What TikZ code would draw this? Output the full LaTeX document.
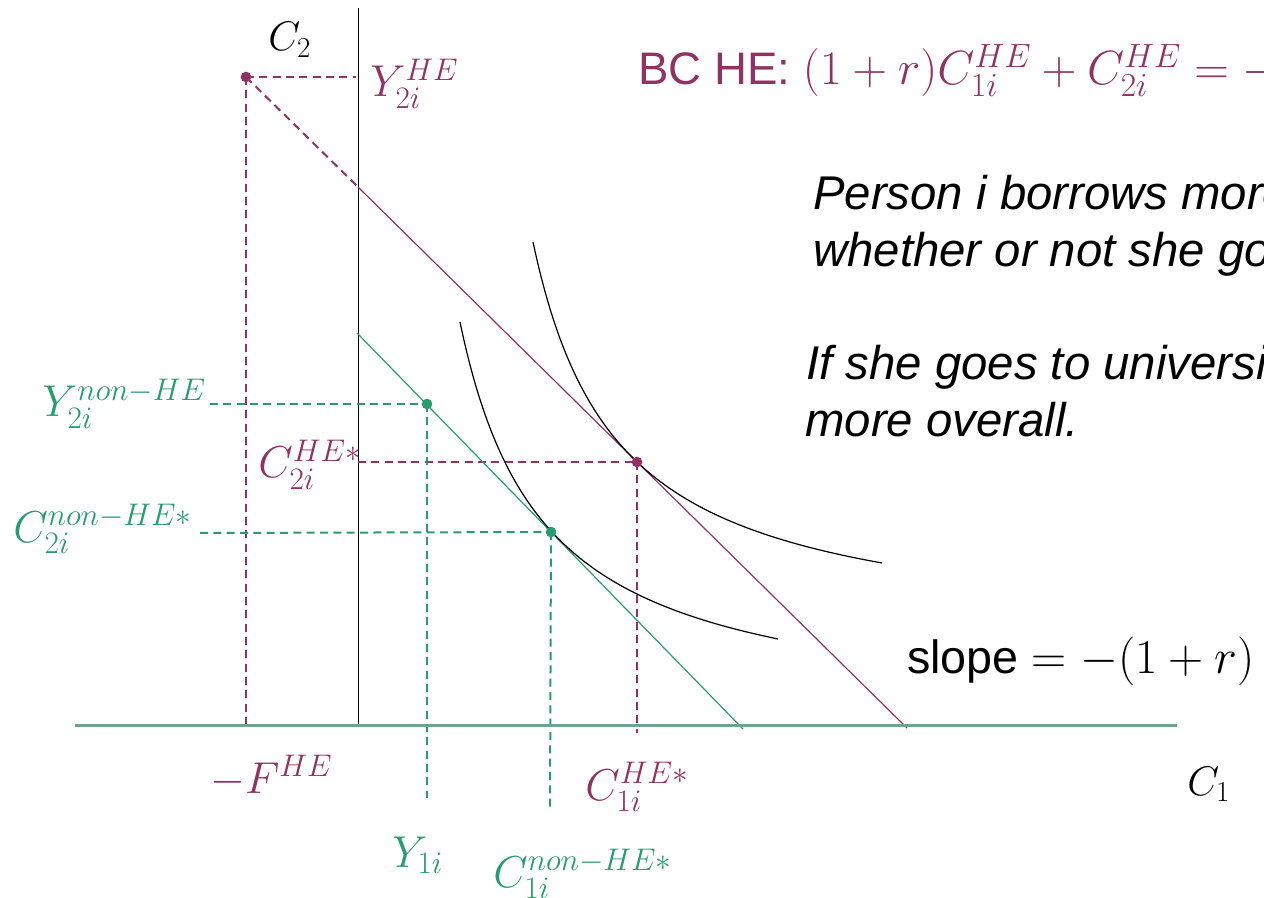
\RequirePackage{fix-cm}
\documentclass[tikz,border=0pt]{standalone}
\usepackage[no-math]{fontspec}
\setmainfont{Liberation Sans}
\definecolor{hepurple}{RGB}{142,52,98}
\definecolor{nongreen}{RGB}{44,154,112}
\definecolor{axisgreen}{RGB}{110,163,144}
\tikzset{
  hedash/.style={hepurple, line width=1.5pt, dash pattern=on 6pt off 4pt},
  nondash/.style={nongreen, line width=1.5pt, dash pattern=on 6pt off 4pt},
  heline/.style={hepurple, line width=0.9pt},
  nonline/.style={nongreen, line width=0.9pt},
  icurve/.style={black, line width=0.9pt},
  lab/.style={anchor=base west, inner sep=0pt, font=\fontsize{33.5}{40}\selectfont},
  axlab/.style={anchor=base west, inner sep=0pt, font=\fontsize{31}{36}\selectfont},
  txt/.style={anchor=base west, inner sep=0pt, font=\fontsize{35.5}{42}\selectfont},
  dotp/.style={fill=hepurple},
  dotg/.style={fill=nongreen}
}
\begin{document}
\begin{tikzpicture}[x=0.75pt,y=-0.75pt]
\useasboundingbox (0,0) rectangle (1264,898);
\clip (0,0) rectangle (1264,898);
% key points
\coordinate (yhe) at (246,77);
\coordinate (yheax) at (356,77);
\coordinate (fhe) at (246,730);
\coordinate (bcax) at (358,187);
\coordinate (bcend) at (907,728);
\coordinate (che) at (637,462);
\coordinate (cheax) at (358,462);
\coordinate (chebot) at (637,733);
\coordinate (gstart) at (357,333);
\coordinate (gend) at (743,729);
\coordinate (g1) at (427,404);
\coordinate (g1left) at (210,404);
\coordinate (g1bot) at (427,798);
\coordinate (g2) at (551,532);
\coordinate (g2left) at (200,533);
\coordinate (g2bot) at (550,809);
\coordinate (axl) at (75,725.5);
\coordinate (axr) at (1177,725.5);
\coordinate (vtop) at (358.5,8);
\coordinate (vbot) at (358.5,725);
% vertical axis
\draw[black, line width=1.1pt] (vtop) -- (vbot);
% dashed guides
\draw[hedash] (yhe) -- (yheax);
\draw[hedash] (yhe) -- (fhe);
\draw[hedash] (yhe) -- (bcax);
\draw[hedash] (cheax) -- (che);
\draw[hedash] (che) -- (chebot);
\draw[nondash] (g1left) -- (g1);
\draw[nondash] (g1) -- (g1bot);
\draw[nondash] (g2left) -- (g2);
\draw[nondash] (g2) -- (g2bot);
% budget lines
\draw[heline] (bcax) -- (bcend);
\draw[nonline] (gstart) -- (gend);
% indifference curves (hyperbolas)
\draw[icurve] plot[domain=533:882, samples=140] (\x, {640.7 - 183.56*(183.56/(\x-448.5))});
\draw[icurve] plot[domain=460:778, samples=140] (\x, {721.9 - 182.4*(182.4/(\x-376.8))});
% horizontal axis
\draw[axisgreen, line width=1.8pt] (axl) -- (axr);
% dots
\fill[dotp] (yhe) circle[radius=4pt];
\fill[dotp] (che) circle[radius=4pt];
\fill[dotg] (g1) circle[radius=4pt];
\fill[dotg] (g2) circle[radius=4pt];
% labels
\node[axlab] (c2) at (268,51) {$C_2$};
\node[axlab] (c1) at (1187,795) {$C_1$};
\node[lab, text=hepurple] (ly2he) at (370,97) {$Y_{2i}^{HE}$};
\node[lab, text=hepurple] (lfhe) at (210,793) {$-F^{HE}$};
\node[lab, text=hepurple] (lc1he) at (585,800) {$C_{1i}^{HE*}$};
\node[lab, text=hepurple] (lc2he) at (258,478) {$C_{2i}^{HE*}$};
\node[lab, text=nongreen] (ly1) at (392,867) {$Y_{1i}$};
\node[lab, text=nongreen] (lc1non) at (493,887) {$C_{1i}^{non-HE*}$};
\node[lab, text=nongreen] (ly2non) at (42,417) {$Y_{2i}^{non-HE}$};
\node[lab, text=nongreen] (lc2non) at (13,542) {$C_{2i}^{non-HE*}$};
% texts
\node[anchor=base west, inner sep=0pt, font=\fontsize{34.2}{41}\selectfont, text=hepurple] (bc) at (638,85) {BC HE: {\fontsize{36}{43}\selectfont$(1+r)C_{1i}^{HE}+C_{2i}^{HE}=-$}};
\node[txt] (t1) at (813,210) {\itshape Person i borrows more};
\node[txt] (t2) at (813,267) {\itshape whether or not she goes};
\node[txt] (t3) at (806,380) {\itshape If she goes to university};
\node[txt] (t4) at (805,437) {\itshape more overall.};
\node[anchor=base west, inner sep=0pt, font=\fontsize{35}{42}\selectfont] (slope) at (907,673) {slope {\fontsize{36.5}{43}\selectfont$=-(1+r)$}};
\end{tikzpicture}
\end{document}
